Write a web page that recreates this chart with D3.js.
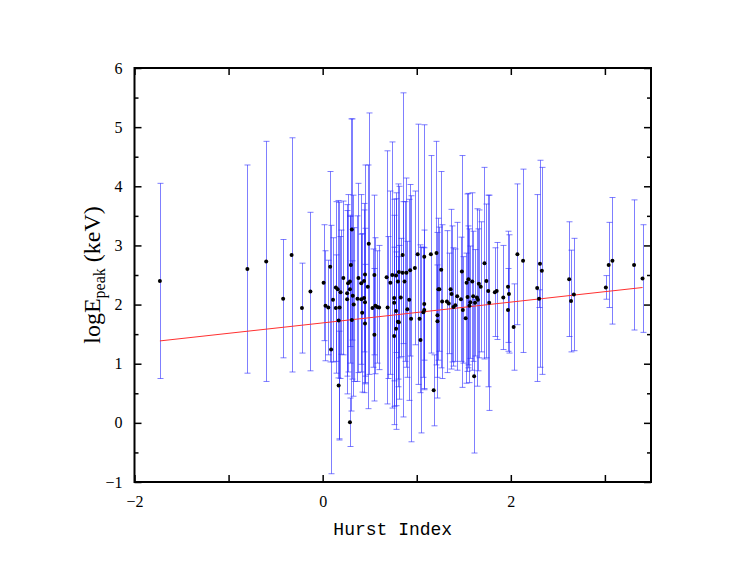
<!DOCTYPE html>
<html>
<head>
<meta charset="utf-8">
<script src="https://cdnjs.cloudflare.com/ajax/libs/d3/7.8.5/d3.min.js"></script>
<style>
  body { margin: 0; background: #fff; }
</style>
</head>
<body>
<div id="container"></div>
<script>
// hurst index of each burst
const hurst = [
  -1.73, -0.80, -0.60, -0.42, -0.33, -0.22, -0.13,
  0.01, 0.03, 0.06, 0.08, 0.09, 0.11, 0.14, 0.14, 0.16, 0.18, 0.19, 0.17, 0.17,
  0.22, 0.26, 0.26, 0.27, 0.29, 0.29, 0.30, 0.31, 0.32, 0.33, 0.31, 0.29, 0.37, 0.38,
  0.41, 0.44, 0.45, 0.48, 0.41, 0.44, 0.45, 0.42, 0.45, 0.49, 0.55, 0.53, 0.56, 0.58,
  0.60, 0.55, 0.68, 0.69, 0.72, 0.74, 0.76, 0.76, 0.78, 0.80, 0.78, 0.76, 0.78, 0.80,
  0.81, 0.85, 0.85, 0.89, 0.87, 0.83, 0.81, 0.90, 0.92, 0.93, 0.94, 0.98, 1.01, 1.03,
  1.04, 1.07, 1.08, 1.08, 1.08, 1.15, 1.18, 1.21, 1.23, 1.22, 1.22,
  1.26, 1.24, 1.27, 1.32, 1.34, 1.36, 1.37, 1.39, 1.41, 1.43, 1.47, 1.48, 1.49, 1.52,
  1.53, 1.54, 1.55, 1.57, 1.56, 1.59, 1.60, 1.61, 1.62, 1.64, 1.65, 1.66,
  1.68, 1.72, 1.74, 1.76, 1.77, 1.83, 1.85, 1.92, 1.97, 1.98, 1.97, 2.03, 2.07, 2.13,
  2.28, 2.31, 2.33, 2.30, 2.62, 2.64, 2.67, 3.01, 3.04, 3.08, 3.31, 3.40
];
// log peak energy (keV)
const logEp = [
  2.40, 2.60, 2.73, 2.10, 2.84, 1.94, 2.22,
  2.37, 1.98, 1.95, 2.64, 1.24, 2.08, 2.29, 1.94, 2.26, 1.95, 2.21, 1.73, 0.63,
  2.45, 2.19, 2.09, 2.36, 2.39, 2.26, 2.67, 3.27, 2.15, 2.00, 1.74, 0.01, 2.10, 2.45,
  2.36, 2.40, 2.51, 2.30, 2.09, 2.11, 2.04, 1.86, 1.68, 3.03, 2.50, 1.94, 1.98, 1.96,
  1.95, 1.49, 2.46, 1.95, 2.37, 2.50, 2.11, 2.03, 2.49, 2.39, 1.89, 1.47, 1.59, 1.71,
  2.55, 2.84, 2.54, 2.54, 2.39, 2.12, 1.70, 1.92, 2.08, 2.58, 1.76, 2.62, 2.85, 1.76,
  1.40, 1.87, 1.91, 2.01, 2.81, 2.85, 0.55, 2.87, 2.26, 1.82, 1.72,
  2.59, 2.26, 2.05, 2.05, 2.02, 2.26, 2.18, 1.96, 1.99, 2.14, 2.09, 2.56, 1.91, 1.77,
  2.37, 2.13, 2.43, 2.04, 1.98, 2.39, 2.14, 0.79, 2.03, 2.12, 2.08, 2.35,
  2.30, 2.70, 2.40, 2.23, 2.03, 2.21, 2.23, 2.12, 2.30, 2.18, 1.91, 1.62, 2.85, 2.74,
  2.28, 2.69, 2.57, 2.10, 2.43, 2.06, 2.17, 2.29, 2.67, 2.74, 2.67, 2.44
];
// error on log peak energy
const logEpErr = [
  1.65, 1.76, 2.03, 1.00, 1.98, 0.76, 1.34,
  0.98, 0.93, 0.80, 1.61, 2.10, 1.05, 1.45, 0.90, 1.50, 1.20, 1.05, 2.00, 0.92,
  1.30, 1.40, 1.60, 1.50, 1.10, 1.25, 2.47, 1.87, 1.70, 1.30, 1.00, 0.41, 1.40, 1.60,
  1.50, 1.20, 1.85, 2.06, 1.10, 1.60, 1.25, 1.34, 1.00, 2.21, 1.35, 1.00, 1.15, 0.95,
  1.05, 1.12, 2.14, 1.20, 1.55, 2.25, 1.40, 1.75, 1.30, 1.65, 2.00, 1.50, 1.30, 1.10,
  1.45, 2.74, 1.20, 1.60, 1.35, 1.00, 1.30, 1.15, 1.70, 1.45, 2.08, 1.30, 2.20, 1.25,
  1.57, 1.10, 1.35, 0.95, 2.23, 1.67, 0.60, 1.89, 1.20, 1.40, 0.95,
  1.66, 1.05, 1.30, 1.20, 0.85, 1.35, 1.15, 1.00, 0.95, 1.25, 1.05, 1.96, 0.90, 1.10,
  1.50, 1.20, 1.45, 0.95, 1.30, 1.50, 1.10, 1.30, 0.90, 1.50, 1.20, 1.25,
  1.10, 1.62, 1.30, 1.62, 1.82, 0.75, 0.82, 0.88, 0.94, 1.00, 0.70, 0.73, 1.19, 1.55,
  1.58, 1.75, 1.75, 0.15, 0.97, 0.86, 0.95, 0.20, 0.72, 1.07, 1.10, 0.91
];
// linear fit
const fitIntercept = 1.69;
const fitSlope = 0.176;

const xTicks = [-2, -1, 0, 1, 2, 3];
const xLabels = [-2, 0, 2];
const yTicks = [-1, 0, 1, 2, 3, 4, 5, 6];
const yMinor = [-0.5, 0.5, 1.5, 2.5, 3.5, 4.5, 5.5];

const dataset = hurst.map((hx, i) => ({x: hx, y: logEp[i], e: logEpErr[i]}));

// set dimensions
const w = 756;
const h = 579;
const pLeft = 134.5, pRight = 651, pTop = 68, pBottom = 482;

const xScale = d3.scaleLinear().domain([-2, 3.49]).range([pLeft, pRight]);
const yScale = d3.scaleLinear().domain([-1, 6]).range([pBottom, pTop]);

const svg = d3.select("#container")
              .append("svg")
              .attr("width", w)
              .attr("height", h)
              .style("font-family", "'Liberation Serif', 'DejaVu Serif', serif");

svg.append("rect").attr("width", w).attr("height", h).attr("fill", "#fff");

// error bars
const bars = svg.append("g")
                .attr("stroke", "#2a2aff")
                .attr("stroke-opacity", 0.6)
                .attr("stroke-width", 1);
bars.selectAll(".err")
    .data(dataset)
    .enter()
    .append("line")
    .attr("x1", d => Math.round(xScale(d.x)) + 0.5)
    .attr("x2", d => Math.round(xScale(d.x)) + 0.5)
    .attr("y1", d => yScale(d.y - d.e))
    .attr("y2", d => yScale(d.y + d.e));
bars.selectAll(".capTop")
    .data(dataset)
    .enter()
    .append("line")
    .attr("x1", d => Math.round(xScale(d.x)) - 2.5)
    .attr("x2", d => Math.round(xScale(d.x)) + 3.5)
    .attr("y1", d => yScale(d.y + d.e))
    .attr("y2", d => yScale(d.y + d.e));
bars.selectAll(".capBot")
    .data(dataset)
    .enter()
    .append("line")
    .attr("x1", d => Math.round(xScale(d.x)) - 2.5)
    .attr("x2", d => Math.round(xScale(d.x)) + 3.5)
    .attr("y1", d => yScale(d.y - d.e))
    .attr("y2", d => yScale(d.y - d.e));

// fit line
const xMin = d3.min(hurst), xMax = d3.max(hurst);
svg.append("line")
   .attr("x1", xScale(xMin))
   .attr("y1", yScale(fitIntercept + fitSlope * xMin))
   .attr("x2", xScale(xMax))
   .attr("y2", yScale(fitIntercept + fitSlope * xMax))
   .attr("stroke", "#ff3030")
   .attr("stroke-width", 1);

// points
svg.selectAll(".pt")
   .data(dataset)
   .enter()
   .append("circle")
   .attr("cx", d => xScale(d.x))
   .attr("cy", d => yScale(d.y))
   .attr("r", 2)
   .attr("fill", "#000");

// axes, ticks inward on all sides
const axisStyle = g => {
  g.select(".domain").remove();
  g.selectAll("line").attr("stroke", "#000").attr("stroke-width", 1.5);
  g.selectAll("text").attr("font-size", "16px").attr("fill", "#000")
   .attr("font-family", "'Liberation Serif', serif");
};
const fmt = v => v < 0 ? "\u2212" + Math.abs(v) : String(v);

svg.append("g")
   .attr("transform", "translate(0," + pBottom + ")")
   .call(d3.axisBottom(xScale).tickValues(xTicks).tickSizeInner(-7).tickSizeOuter(0)
         .tickPadding(14).tickFormat(d => xLabels.includes(d) ? fmt(d) : ""))
   .call(axisStyle);
svg.append("g")
   .attr("transform", "translate(0," + pTop + ")")
   .call(d3.axisTop(xScale).tickValues(xTicks).tickSizeInner(-7).tickSizeOuter(0).tickFormat(""))
   .call(axisStyle);
svg.append("g")
   .attr("transform", "translate(" + pLeft + ",0)")
   .call(d3.axisLeft(yScale).tickValues(yTicks).tickSizeInner(-7).tickSizeOuter(0)
         .tickPadding(12).tickFormat(fmt))
   .call(axisStyle);
svg.append("g")
   .attr("transform", "translate(" + pLeft + ",0)")
   .call(d3.axisLeft(yScale).tickValues(yMinor).tickSizeInner(-4).tickSizeOuter(0).tickFormat(""))
   .call(axisStyle);
svg.append("g")
   .attr("transform", "translate(" + pRight + ",0)")
   .call(d3.axisRight(yScale).tickValues(yTicks).tickSizeInner(-7).tickSizeOuter(0).tickFormat(""))
   .call(axisStyle);
svg.append("g")
   .attr("transform", "translate(" + pRight + ",0)")
   .call(d3.axisRight(yScale).tickValues(yMinor).tickSizeInner(-4).tickSizeOuter(0).tickFormat(""))
   .call(axisStyle);

// frame
svg.append("rect")
   .attr("x", pLeft)
   .attr("y", pTop)
   .attr("width", pRight - pLeft)
   .attr("height", pBottom - pTop)
   .attr("fill", "none")
   .attr("stroke", "#000")
   .attr("stroke-width", 2);

// axis titles
svg.append("text")
   .attr("x", (pLeft + pRight) / 2)
   .attr("y", 535)
   .attr("text-anchor", "middle")
   .attr("font-family", "'Liberation Mono', monospace")
   .attr("font-size", "18px")
   .text("Hurst Index");

const yt = svg.append("text")
   .attr("transform", "translate(100," + ((pTop + pBottom) / 2) + ") rotate(-90)")
   .attr("text-anchor", "middle")
   .attr("font-size", "24px");
yt.append("tspan").text("logE");
yt.append("tspan").attr("font-size", "16px").attr("dy", 5).text("peak");
yt.append("tspan").attr("dy", -5).text(" (keV)");
</script>
</body>
</html>
